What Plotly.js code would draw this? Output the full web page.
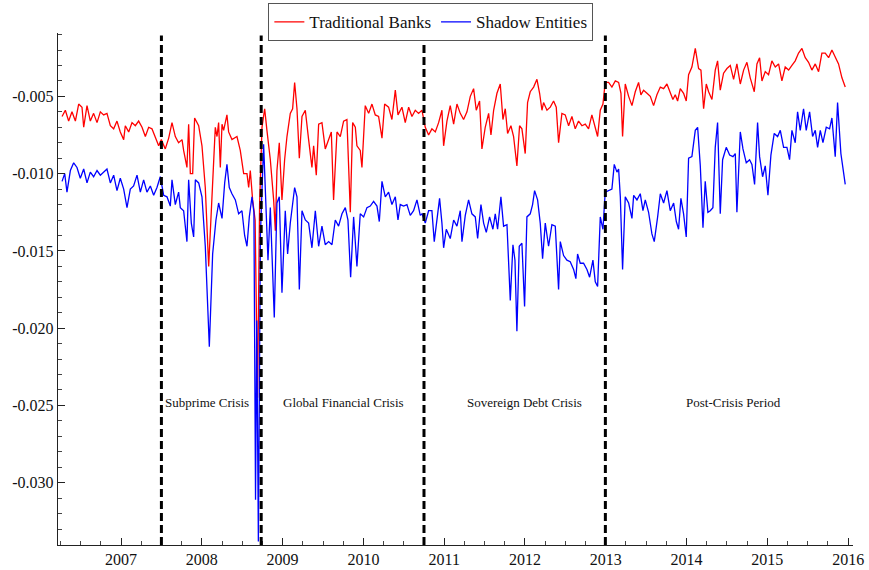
<!DOCTYPE html>
<html>
<head>
<meta charset="utf-8">
<script src="https://cdn.plot.ly/plotly-3.0.1.min.js"></script>
<style>html,body{margin:0;padding:0;background:#fff;}#chart{width:869px;height:570px;}</style>
</head>
<body>
<div id="chart"></div>
<script>
// Decimal-year dates and values
const banksX = [2006.270,2006.311,2006.352,2006.393,2006.435,2006.476,2006.517,2006.538,2006.579,2006.620,2006.661,2006.703,2006.744,2006.785,2006.826,2006.868,2006.909,2006.950,2006.991,2007.033,2007.053,2007.095,2007.136,2007.177,2007.218,2007.260,2007.301,2007.342,2007.383,2007.425,2007.466,2007.499,2007.548,2007.590,2007.631,2007.672,2007.713,2007.755,2007.775,2007.816,2007.837,2007.858,2007.887,2007.911,2007.961,2008.002,2008.043,2008.085,2008.126,2008.167,2008.188,2008.208,2008.229,2008.250,2008.270,2008.311,2008.332,2008.373,2008.435,2008.476,2008.518,2008.559,2008.580,2008.600,2008.629,2008.660,2008.690,2008.715,
2008.745,2008.778,2008.806,2008.848,2008.889,2008.910,2008.930,2008.959,2008.992,2009.025,2009.054,2009.095,2009.124,2009.149,2009.178,2009.207,2009.240,2009.281,2009.322,2009.363,2009.384,2009.417,2009.446,2009.487,2009.528,2009.570,2009.603,2009.631,2009.673,2009.714,2009.755,2009.796,2009.838,2009.867,2009.900,2009.920,2009.961,2009.982,2010.023,2010.065,2010.106,2010.147,2010.188,2010.230,2010.263,2010.312,2010.353,2010.395,2010.428,2010.477,2010.518,2010.560,2010.601,2010.642,2010.683,
2010.725,2010.766,2010.807,2010.848,2010.890,2010.931,2010.972,2010.993,2011.034,2011.075,2011.117,2011.158,2011.199,2011.240,2011.282,2011.323,2011.364,2011.397,2011.438,2011.467,2011.508,2011.550,2011.579,2011.612,2011.653,2011.694,2011.727,2011.756,2011.785,2011.826,2011.859,2011.900,2011.933,2011.962,2012.003,2012.032,2012.065,2012.107,2012.148,2012.181,2012.210,2012.230,2012.272,2012.313,2012.354,2012.387,2012.416,2012.457,2012.498,2012.540,2012.581,2012.622,2012.663,2012.705,2012.746,2012.787,2012.828,2012.870,2012.899,2012.932,2012.965,2012.993,
2013.035,2013.076,2013.118,2013.159,2013.188,2013.208,2013.241,2013.283,2013.324,2013.365,2013.406,2013.435,2013.468,2013.510,2013.551,2013.592,2013.633,2013.675,2013.716,2013.757,2013.798,2013.831,2013.860,2013.889,2013.922,2013.963,2013.996,2014.025,2014.066,2014.108,2014.149,2014.178,2014.211,2014.244,2014.273,2014.314,2014.355,2014.384,2014.417,2014.458,2014.500,2014.541,2014.582,2014.623,2014.665,2014.706,2014.747,2014.788,2014.838,2014.871,2014.904,2014.933,2014.974,2015.015,2015.056,2015.098,2015.139,2015.180,2015.221,2015.263,2015.304,2015.345,2015.386,2015.428,2015.469,2015.510,2015.551,2015.593,2015.634,2015.675,2015.716,2015.758,2015.799,2015.840,2015.881,2015.923,2015.964];
const banksY = [-0.0063,-0.0059,-0.0066,-0.0060,-0.0066,-0.0055,-0.0057,-0.0070,-0.0056,-0.0066,-0.0061,-0.0067,-0.0060,-0.0062,-0.0061,-0.0069,-0.0071,-0.0066,-0.0073,-0.0078,-0.0069,-0.0073,-0.0067,-0.0069,-0.0066,-0.0070,-0.0076,-0.0070,-0.0071,-0.0076,-0.0082,-0.0078,-0.0084,-0.0077,-0.0067,-0.0076,-0.0080,-0.0078,-0.0085,-0.0096,-0.0068,-0.0100,-0.0100,-0.0064,-0.0069,-0.0082,-0.0109,-0.0160,-0.0113,-0.0070,-0.0076,-0.0067,-0.0096,-0.0068,-0.0072,-0.0062,-0.0073,-0.0078,-0.0076,-0.0085,-0.0100,-0.0100,-0.0109,-0.0098,-0.0117,-0.0130,-0.0245,-0.0120,
-0.0070,-0.0058,-0.0072,-0.0091,-0.0117,-0.0137,-0.0098,-0.0080,-0.0117,-0.0091,-0.0076,-0.0061,-0.0058,-0.0041,-0.0058,-0.0090,-0.0063,-0.0059,-0.0078,-0.0096,-0.0082,-0.0101,-0.0068,-0.0067,-0.0084,-0.0078,-0.0073,-0.0117,-0.0073,-0.0076,-0.0066,-0.0065,-0.0125,-0.0067,-0.0070,-0.0082,-0.0085,-0.0096,-0.0056,-0.0061,-0.0055,-0.0062,-0.0063,-0.0077,-0.0055,-0.0057,-0.0065,-0.0046,-0.0062,-0.0057,-0.0067,-0.0057,-0.0063,-0.0059,-0.0061,
-0.0059,-0.0070,-0.0075,-0.0071,-0.0073,-0.0067,-0.0059,-0.0082,-0.0066,-0.0056,-0.0068,-0.0055,-0.0061,-0.0065,-0.0060,-0.0050,-0.0045,-0.0059,-0.0053,-0.0084,-0.0070,-0.0061,-0.0075,-0.0059,-0.0048,-0.0042,-0.0065,-0.0058,-0.0074,-0.0069,-0.0076,-0.0095,-0.0069,-0.0071,-0.0087,-0.0054,-0.0047,-0.0044,-0.0039,-0.0048,-0.0059,-0.0054,-0.0059,-0.0057,-0.0053,-0.0057,-0.0080,-0.0061,-0.0062,-0.0069,-0.0063,-0.0071,-0.0066,-0.0069,-0.0068,-0.0071,-0.0062,-0.0070,-0.0076,-0.0059,-0.0055,-0.0041,
-0.0041,-0.0044,-0.0040,-0.0041,-0.0048,-0.0076,-0.0042,-0.0050,-0.0056,-0.0047,-0.0041,-0.0049,-0.0046,-0.0048,-0.0050,-0.0056,-0.0049,-0.0044,-0.0045,-0.0042,-0.0048,-0.0052,-0.0049,-0.0053,-0.0045,-0.0048,-0.0053,-0.0036,-0.0031,-0.0019,-0.0032,-0.0033,-0.0058,-0.0042,-0.0047,-0.0052,-0.0033,-0.0027,-0.0046,-0.0035,-0.0032,-0.0030,-0.0039,-0.0029,-0.0042,-0.0033,-0.0028,-0.0038,-0.0047,-0.0029,-0.0025,-0.0040,-0.0034,-0.0036,-0.0027,-0.0031,-0.0029,-0.0040,-0.0031,-0.0033,-0.0030,-0.0027,-0.0022,-0.0019,-0.0025,-0.0028,-0.0033,-0.0029,-0.0034,-0.0022,-0.0022,-0.0025,-0.0020,-0.0024,-0.0029,-0.0038,-0.0044];

const shadowX = [2006.270,2006.303,2006.331,2006.373,2006.414,2006.455,2006.496,2006.538,2006.579,2006.620,2006.661,2006.703,2006.744,2006.785,2006.826,2006.868,2006.909,2006.950,2006.991,2007.033,2007.074,2007.115,2007.156,2007.198,2007.239,2007.280,2007.321,2007.363,2007.404,2007.445,2007.486,2007.528,2007.569,2007.610,2007.631,2007.672,2007.713,2007.734,2007.775,2007.816,2007.837,2007.870,2007.899,2007.920,2007.961,2008.002,2008.043,2008.093,2008.134,2008.175,2008.208,2008.250,2008.283,2008.311,2008.340,2008.373,2008.415,2008.456,2008.497,2008.530,2008.559,2008.588,2008.621,2008.645,2008.665,2008.680,2008.700,2008.725,
2008.765,2008.819,2008.848,2008.897,2008.930,2008.959,2008.992,2009.033,2009.062,2009.095,2009.149,2009.178,2009.207,2009.240,2009.281,2009.322,2009.363,2009.405,2009.446,2009.487,2009.528,2009.570,2009.611,2009.652,2009.693,2009.735,2009.776,2009.809,2009.842,2009.879,2009.920,2009.961,2010.003,2010.044,2010.085,2010.126,2010.168,2010.197,2010.230,2010.271,2010.312,2010.353,2010.395,2010.428,2010.456,2010.498,2010.539,2010.580,2010.621,2010.663,2010.704,
2010.725,2010.766,2010.807,2010.848,2010.877,2010.910,2010.943,2010.972,2010.993,2011.026,2011.075,2011.117,2011.158,2011.199,2011.220,2011.261,2011.302,2011.343,2011.385,2011.414,2011.455,2011.488,2011.521,2011.562,2011.603,2011.632,2011.661,2011.702,2011.735,2011.777,2011.797,2011.818,2011.851,2011.876,2011.900,2011.929,2011.962,2011.995,2012.024,2012.065,2012.094,2012.119,2012.156,2012.189,2012.218,2012.251,2012.292,2012.333,2012.375,2012.416,2012.437,2012.478,2012.519,2012.560,2012.602,2012.630,2012.651,2012.684,2012.725,2012.767,2012.800,2012.841,2012.870,2012.899,2012.932,2012.965,2012.993,
2013.035,2013.076,2013.105,2013.138,2013.159,2013.180,2013.208,2013.241,2013.283,2013.324,2013.345,2013.386,2013.427,2013.460,2013.489,2013.530,2013.571,2013.600,2013.642,2013.675,2013.716,2013.757,2013.798,2013.840,2013.873,2013.901,2013.930,2013.963,2013.996,2014.025,2014.066,2014.108,2014.137,2014.170,2014.203,2014.231,2014.264,2014.293,2014.326,2014.355,2014.384,2014.417,2014.446,2014.491,2014.533,2014.574,2014.603,2014.623,2014.665,2014.698,2014.739,2014.780,2014.809,2014.842,2014.879,2014.904,2014.941,2014.974,2015.007,2015.044,2015.085,2015.127,2015.160,2015.201,2015.242,2015.275,2015.304,2015.345,2015.374,2015.407,2015.448,2015.481,2015.523,2015.560,2015.593,2015.622,2015.655,2015.688,2015.729,2015.770,2015.799,2015.840,2015.869,2015.910,2015.964];
const shadowY = [-0.0105,-0.0100,-0.0112,-0.0098,-0.0093,-0.0096,-0.0103,-0.0097,-0.0106,-0.0099,-0.0102,-0.0098,-0.0101,-0.0099,-0.0097,-0.0106,-0.0101,-0.0111,-0.0103,-0.0110,-0.0122,-0.0110,-0.0108,-0.0101,-0.0112,-0.0104,-0.0112,-0.0108,-0.0114,-0.0109,-0.0102,-0.0114,-0.0115,-0.0121,-0.0104,-0.0120,-0.0112,-0.0122,-0.0124,-0.0144,-0.0104,-0.0132,-0.0141,-0.0104,-0.0106,-0.0115,-0.0147,-0.0212,-0.0152,-0.0130,-0.0119,-0.0129,-0.0106,-0.0094,-0.0109,-0.0113,-0.0117,-0.0126,-0.0124,-0.0140,-0.0147,-0.0128,-0.0115,-0.0125,-0.0311,-0.0195,-0.0338,-0.0140,
-0.0081,-0.0156,-0.0122,-0.0193,-0.0119,-0.0115,-0.0177,-0.0124,-0.0152,-0.0132,-0.0109,-0.0115,-0.0175,-0.0124,-0.0130,-0.0132,-0.0148,-0.0124,-0.0147,-0.0134,-0.0146,-0.0144,-0.0146,-0.0130,-0.0134,-0.0126,-0.0122,-0.0130,-0.0167,-0.0128,-0.0160,-0.0126,-0.0128,-0.0122,-0.0121,-0.0118,-0.0121,-0.0131,-0.0105,-0.0115,-0.0112,-0.0120,-0.0115,-0.0130,-0.0120,-0.0121,-0.0120,-0.0127,-0.0124,-0.0117,-0.0127,
-0.0126,-0.0132,-0.0124,-0.0124,-0.0144,-0.0130,-0.0116,-0.0132,-0.0148,-0.0136,-0.0142,-0.0130,-0.0134,-0.0124,-0.0144,-0.0127,-0.0117,-0.0126,-0.0128,-0.0142,-0.0120,-0.0132,-0.0138,-0.0128,-0.0136,-0.0126,-0.0136,-0.0115,-0.0134,-0.0133,-0.0156,-0.0182,-0.0146,-0.0156,-0.0202,-0.0147,-0.0145,-0.0186,-0.0128,-0.0126,-0.0120,-0.0111,-0.0117,-0.0132,-0.0155,-0.0132,-0.0147,-0.0133,-0.0134,-0.0175,-0.0144,-0.0153,-0.0156,-0.0157,-0.0162,-0.0168,-0.0152,-0.0158,-0.0158,-0.0162,-0.0167,-0.0156,-0.0170,-0.0173,-0.0128,-0.0136,-0.0112,
-0.0111,-0.0110,-0.0094,-0.0099,-0.0097,-0.0115,-0.0162,-0.0115,-0.0119,-0.0129,-0.0114,-0.0117,-0.0113,-0.0124,-0.0117,-0.0125,-0.0139,-0.0144,-0.0128,-0.0113,-0.0119,-0.0111,-0.0124,-0.0119,-0.0131,-0.0136,-0.0116,-0.0126,-0.0141,-0.0090,-0.0089,-0.0072,-0.0070,-0.0095,-0.0135,-0.0105,-0.0125,-0.0124,-0.0122,-0.0083,-0.0067,-0.0126,-0.0091,-0.0083,-0.0088,-0.0089,-0.0087,-0.0125,-0.0073,-0.0084,-0.0093,-0.0091,-0.0094,-0.0107,-0.0067,-0.0089,-0.0102,-0.0095,-0.0114,-0.0088,-0.0074,-0.0076,-0.0072,-0.0083,-0.0083,-0.0091,-0.0072,-0.0080,-0.0060,-0.0072,-0.0058,-0.0072,-0.0060,-0.0076,-0.0072,-0.0083,-0.0072,-0.0080,-0.0070,-0.0071,-0.0064,-0.0089,-0.0054,-0.0087,-0.0107];

const breakDates = [2007.50, 2008.735, 2010.75, 2012.995];
const periodNames = ["Subprime Crisis", "Global Financial Crisis", "Sovereign Debt Crisis", "Post-Crisis Period"];
const periodLabelX = [2008.07, 2009.75, 2011.99, 2014.58];
const periodLabelY = -0.0248;
const yTickVals = [-0.005, -0.010, -0.015, -0.020, -0.025, -0.030];
const yTickText = ["-0.005", "-0.010", "-0.015", "-0.020", "-0.025", "-0.030"];
const xTickVals = [2007, 2008, 2009, 2010, 2011, 2012, 2013, 2014, 2015, 2016];
const xTickText = ["2007", "2008", "2009", "2010", "2011", "2012", "2013", "2014", "2015", "2016"];

const serif = "Liberation Serif, Times New Roman, serif";

const traces = [
  {x: banksX, y: banksY, type: 'scatter', mode: 'lines', name: 'Traditional Banks',
   line: {color: '#ff0000', width: 1.3}},
  {x: shadowX, y: shadowY, type: 'scatter', mode: 'lines', name: 'Shadow Entities',
   line: {color: '#0000ff', width: 1.3}}
];

const shapes = breakDates.map(d => ({
  type: 'line', xref: 'x', yref: 'paper', x0: d, x1: d, y0: 0, y1: 0.995,
  line: {color: '#000', width: 3, dash: '8px,4px'}, layer: 'above'
}));

const annotations = periodNames.map((t, i) => ({
  x: periodLabelX[i], y: periodLabelY, xref: 'x', yref: 'y', text: t, showarrow: false,
  font: {family: serif, size: 13, color: '#111'}
}));

const layout = {
  width: 869, height: 570,
  margin: {l: 58, r: 16, t: 33, b: 25, autoexpand: false},
  paper_bgcolor: '#fff', plot_bgcolor: '#fff',
  font: {family: serif, size: 16, color: '#111'},
  showlegend: true,
  legend: {orientation: 'h', x: 0.469, xanchor: 'center', y: 1.058, yanchor: 'top',
           bordercolor: '#555', borderwidth: 1, bgcolor: '#fff',
           font: {family: serif, size: 17, color: '#111'}},
  xaxis: {range: [2006.22, 2016.06], showgrid: false, zeroline: false,
          showline: true, linecolor: '#222', linewidth: 1.2,
          tickmode: 'array', tickvals: xTickVals, ticktext: xTickText,
          ticks: 'inside', ticklen: 7, tickcolor: '#222', tickwidth: 1,
          minor: {dtick: 0.25, tick0: 2007, ticks: 'inside', ticklen: 4, tickcolor: '#444', showgrid: false},
          tickfont: {family: serif, size: 16, color: '#111'}},
  yaxis: {range: [-0.03403, -0.0009], showgrid: false, zeroline: false,
          showline: true, linecolor: '#222', linewidth: 1.2,
          tickmode: 'array', tickvals: yTickVals, ticktext: yTickText,
          ticks: 'inside', ticklen: 7, tickcolor: '#222', tickwidth: 1,
          minor: {dtick: 0.001, tick0: 0, ticks: 'inside', ticklen: 4, tickcolor: '#444', showgrid: false},
          tickfont: {family: serif, size: 16, color: '#111'}},
  shapes: shapes,
  annotations: annotations
};

Plotly.newPlot('chart', traces, layout, {displayModeBar: false, staticPlot: true});
</script>
</body>
</html>
